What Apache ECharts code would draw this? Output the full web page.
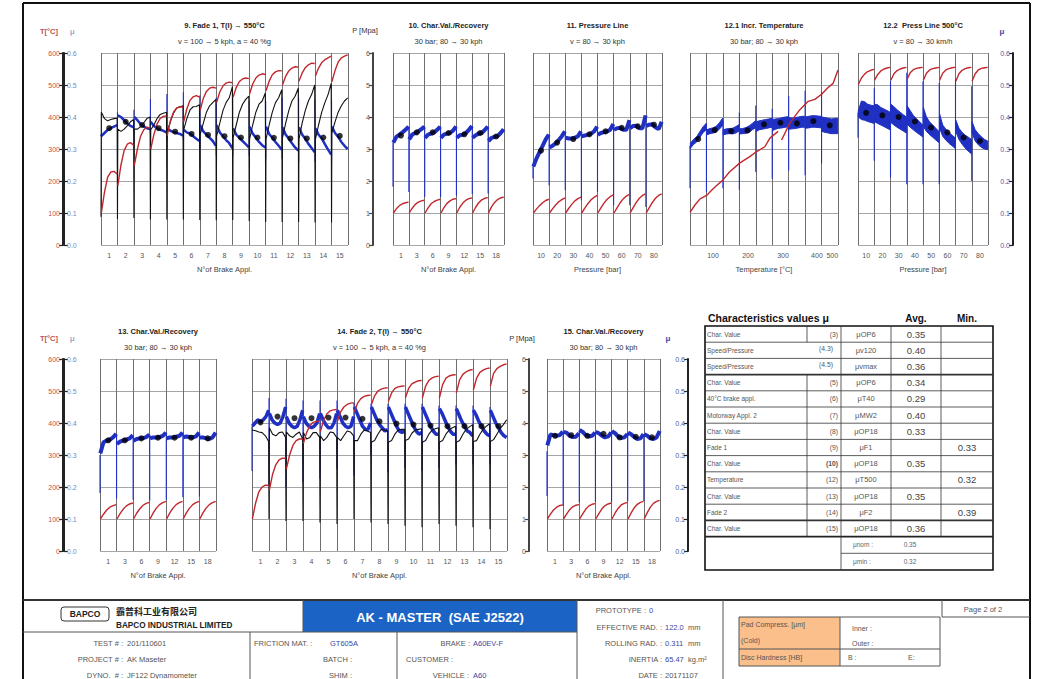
<!DOCTYPE html>
<html><head><meta charset="utf-8"><title>AK - MASTER (SAE J2522)</title>
<script src="https://cdn.jsdelivr.net/npm/echarts@6/dist/echarts.min.js"></script>
<style>html,body{margin:0;padding:0;background:#fff;}#chart{width:1041px;height:679px;}</style>
</head><body><div id="chart"></div>
<script>
// ================= DATA =================
const fade1Ticks = ['1','2','3','4','5','6','7','8','9','10','11','12','13','14','15'];
const recoveryTicks = ['1','3','6','9','12','15','18'];
const pressureTicks = ['10','20','30','40','50','60','70','80'];
const temperatureTicks = ['100','200','300','400','500'];
const temperatureTickAt = [1.4, 3.53, 5.66, 7.72, 8.65];

// 9. Fade 1
const f1Temp = [
 [100,165,212,228,230,222],[185,250,295,315,320,312],[248,300,340,360,368,365],[300,345,378,396,402,404],
 [342,388,415,428,432,430],[385,425,452,463,467,462],[420,458,480,490,493,490],[445,478,497,506,509,507],
 [462,492,511,519,522,520],[472,503,522,531,535,533],[482,512,532,541,545,544],[500,527,544,553,557,556],
 [512,537,554,563,568,567],[528,553,570,579,585,590],[510,545,572,585,590,594]];
const f1Pres = [
 [4.15,3.95,3.88,3.92,3.95,3.96],[3.62,3.55,3.62,3.72,3.85,3.92],[3.62,3.62,3.70,3.82,3.95,4.0],[3.6,3.75,3.95,4.08,4.12,4.15],
 [3.55,3.85,4.12,4.28,4.32,4.35],[3.6,3.95,4.22,4.32,4.33,4.38],[3.45,3.8,4.15,4.35,4.45,4.55],[3.4,3.8,4.2,4.45,4.6,4.95],
 [3.35,3.75,4.15,4.4,4.55,4.65],[3.3,3.75,4.15,4.4,4.5,4.75],[3.3,3.75,4.15,4.45,4.6,4.85],[3.35,3.8,4.2,4.5,4.65,4.9],
 [3.3,3.8,4.2,4.5,4.7,5.0],[3.3,3.75,4.15,4.45,4.7,5.05],[3.5,3.85,4.15,4.35,4.5,4.6]];
const f1PresLow = [0.88,0.81,0.84,0.8,0.8,0.8,0.78,0.77,0.78,0.75,0.72,0.72,0.72,0.7,0.7];
const f1Mu = [
 [0.34,0.35,0.36,0.365,0.37,0.375],[0.405,0.40,0.39,0.38,0.372,0.368],[0.40,0.39,0.378,0.37,0.365,0.362],[0.385,0.372,0.365,0.36,0.357,0.352],
 [0.365,0.357,0.353,0.35,0.347,0.342],[0.36,0.352,0.348,0.34,0.332,0.325],[0.375,0.355,0.345,0.335,0.325,0.31],[0.375,0.352,0.34,0.328,0.318,0.302],
 [0.365,0.345,0.335,0.325,0.315,0.305],[0.37,0.348,0.336,0.322,0.312,0.305],[0.37,0.347,0.335,0.322,0.31,0.298],[0.368,0.345,0.333,0.318,0.305,0.295],
 [0.368,0.345,0.332,0.316,0.303,0.29],[0.365,0.345,0.333,0.315,0.298,0.283],[0.37,0.35,0.338,0.322,0.31,0.30]];
const f1MuLo = [0.34,0.36,0.355,0.35,0.33,0.33,0.3,0.28,0.28,0.28,0.27,0.27,0.26,0.26,0.26];
const f1MuHi = [0.345,0.415,0.423,0.456,0.472,0.477,0.467,0.46,0.46,0.45,0.45,0.46,0.46,0.455,0.455];
const f1Dots = [0.365,0.385,0.375,0.365,0.354,0.347,0.344,0.34,0.336,0.336,0.335,0.333,0.333,0.336,0.341];

// 10. Char. Val./Recovery
const cv1Mu = [
 [0.32,0.338,0.345,0.352,0.36,0.37],[0.33,0.345,0.35,0.355,0.362,0.37],[0.335,0.345,0.348,0.352,0.36,0.37],[0.335,0.345,0.348,0.35,0.358,0.37],
 [0.335,0.343,0.345,0.35,0.36,0.372],[0.335,0.343,0.348,0.35,0.36,0.37],[0.325,0.335,0.338,0.34,0.35,0.362]];
const cv1MuLo = [0.182,0.166,0.15,0.15,0.155,0.159,0.161];
const cv1MuHi = [0.32,0.37,0.37,0.37,0.37,0.372,0.37];
const cv1Temp = [
 [100,113,123,129,132,134],[100,115,127,134,138,140],[100,116,129,136,140,143],[100,117,130,138,143,145],
 [100,118,131,140,145,147],[100,118,132,141,146,148],[100,119,133,142,147,150]];
const cv1Dots = [0.342,0.352,0.352,0.35,0.346,0.35,0.339];

// 11. Pressure Line
const plMu = [
 [0.245,0.27,0.29,0.31,0.33,0.345],[0.305,0.31,0.318,0.328,0.34,0.355],[0.335,0.333,0.333,0.335,0.34,0.355],[0.34,0.342,0.345,0.348,0.355,0.37],
 [0.345,0.35,0.353,0.355,0.36,0.378],[0.36,0.365,0.366,0.36,0.36,0.39],[0.365,0.372,0.373,0.365,0.365,0.405],[0.372,0.376,0.377,0.368,0.362,0.385]];
const plMuLo = [0.208,0.187,0.171,0.14,0.166,0.124,0.124,0.119];
const plMuHi = [0.245,0.345,0.355,0.355,0.37,0.378,0.39,0.405];
const plTemp = [
 [100,112,123,132,139,143],[100,113,125,135,142,147],[100,114,127,138,145,150],[100,115,129,141,149,155],
 [100,116,131,143,151,157],[100,116,132,144,153,158],[100,117,133,146,155,160],[100,117,133,146,155,160]];
const plDots = [0.295,0.32,0.331,0.346,0.355,0.366,0.371,0.376];

// 12.1 Incr. Temperature
const itMuLower = [
 [0.302,0.314,0.322,0.336,0.351,0.36],[0.344,0.348,0.35,0.353,0.362,0.374],[0.344,0.347,0.348,0.347,0.35,0.356],
 [0.347,0.348,0.349,0.352,0.36,0.366],[0.355,0.36,0.362,0.364,0.366,0.368],[0.358,0.362,0.365,0.366,0.368,0.369],
 [0.362,0.363,0.364,0.366,0.368,0.368],[0.365,0.366,0.368,0.368,0.367,0.366],[0.355,0.352,0.35,0.348,0.348,0.348]];
const itMuUpper = [
 [0.318,0.33,0.338,0.354,0.369,0.38],[0.36,0.364,0.366,0.371,0.382,0.396],[0.36,0.363,0.364,0.365,0.37,0.376],
 [0.363,0.364,0.367,0.372,0.38,0.388],[0.385,0.388,0.39,0.392,0.394,0.396],[0.392,0.394,0.395,0.398,0.4,0.401],
 [0.398,0.397,0.398,0.4,0.402,0.402],[0.4,0.402,0.404,0.404,0.403,0.402],[0.4,0.398,0.396,0.394,0.395,0.396]];
const itMuLo = [0.177,0.165,0.177,0.173,0.228,0.207,0.233,0.218,0.255];
const itMuHi = [0.31,0.38,0.39,0.414,0.436,0.426,0.466,0.482,0.477];
const itDots = [0.331,0.359,0.356,0.358,0.377,0.382,0.38,0.387,0.374];
const itTempAtA = [0,0.3,0.61,1.01,1.3,1.62,1.98,2.4,3.0,3.3,3.64,4.05,4.55,4.86,5.36];
const itTempA   = [102,125,144,155,170,186,202,228,255,265,276,292,307,334,355];
const itTempAtB = [5.57,6.07,6.68,7.19,7.59,8.0,8.4,8.7,9.0];
const itTempB   = [328,381,423,449,455,471,492,505,547];

// 12.2 Press Line 500 °C
const p5MuLower = [
 [0.40,0.392,0.39,0.386,0.383,0.38],[0.385,0.38,0.375,0.37,0.365,0.36],[0.383,0.375,0.368,0.362,0.356,0.35],
 [0.378,0.368,0.36,0.352,0.345,0.338],[0.37,0.355,0.345,0.337,0.328,0.32],[0.365,0.34,0.328,0.318,0.31,0.302],
 [0.355,0.33,0.315,0.303,0.293,0.285],[0.35,0.325,0.313,0.305,0.30,0.298]];
const p5MuUpper = [
 [0.42,0.45,0.448,0.44,0.437,0.435],[0.44,0.438,0.43,0.425,0.42,0.415],[0.44,0.432,0.423,0.415,0.407,0.40],
 [0.435,0.42,0.405,0.395,0.385,0.375],[0.43,0.40,0.385,0.375,0.365,0.355],[0.41,0.375,0.362,0.352,0.343,0.335],
 [0.39,0.365,0.352,0.343,0.337,0.33],[0.385,0.36,0.348,0.338,0.33,0.325]];
const p5MuLo = [0.335,0.263,0.211,0.19,0.19,0.19,0.2,0.2];
const p5MuHi = [0.413,0.49,0.512,0.538,0.512,0.507,0.517,0.496];
const p5Dots = [0.413,0.405,0.40,0.386,0.367,0.352,0.336,0.325];
const p5Temp = [
 [502,522,534,542,546,549],[515,533,544,550,553,555],[515,535,545,550,553,555],[518,538,548,552,554,555],
 [515,537,547,551,553,555],[515,537,547,551,554,555],[512,535,546,551,554,555],[512,535,547,552,554,555]];

// 13. Char. Val./Recovery
const cv2Mu = [
 [0.305,0.34,0.345,0.348,0.355,0.366],[0.335,0.342,0.346,0.348,0.352,0.362],[0.345,0.35,0.352,0.353,0.356,0.364],
 [0.352,0.355,0.355,0.356,0.36,0.37],[0.352,0.355,0.355,0.357,0.36,0.37],[0.355,0.358,0.356,0.355,0.358,0.37],[0.355,0.355,0.352,0.35,0.355,0.37]];
const cv2MuLo = [0.181,0.163,0.16,0.158,0.16,0.168,0.17];
const cv2MuHi = [0.3,0.366,0.362,0.364,0.37,0.37,0.37];
const cv2Temp = [
 [100,115,128,137,142,145],[100,117,131,141,147,150],[100,118,132,143,149,152],[100,119,134,145,151,155],
 [100,119,134,145,151,155],[100,119,134,145,151,155],[100,119,134,145,151,155]];
const cv2Dots = [0.346,0.346,0.352,0.354,0.354,0.354,0.352];

// 14. Fade 2
const f2Mu = [
 [0.39,0.40,0.41,0.405,0.41,0.42,0.44],[0.43,0.41,0.40,0.395,0.40,0.42,0.45],[0.42,0.40,0.39,0.385,0.39,0.41,0.44],
 [0.42,0.40,0.39,0.385,0.39,0.40,0.43],[0.43,0.41,0.395,0.385,0.385,0.40,0.43],[0.44,0.42,0.40,0.39,0.385,0.39,0.42],
 [0.45,0.43,0.41,0.39,0.38,0.38,0.40],[0.45,0.43,0.41,0.395,0.385,0.375,0.38],[0.45,0.43,0.41,0.39,0.375,0.37,0.375],
 [0.45,0.43,0.41,0.39,0.375,0.365,0.37],[0.45,0.43,0.41,0.39,0.375,0.365,0.365],[0.445,0.43,0.41,0.39,0.375,0.365,0.365],
 [0.445,0.425,0.405,0.39,0.375,0.37,0.36],[0.44,0.425,0.405,0.39,0.375,0.365,0.36],[0.44,0.42,0.40,0.385,0.37,0.36,0.355]];
const f2MuLo = [0.25,0.205,0.2,0.215,0.226,0.257,0.236,0.3,0.247,0.26,0.25,0.26,0.27,0.27,0.27];
const f2MuHi = [0.39,0.478,0.476,0.47,0.47,0.47,0.465,0.46,0.46,0.46,0.46,0.455,0.455,0.455,0.45];
const f2Temp = [
 [100,150,185,200,206,205],[190,240,270,285,290,290],[256,300,330,345,350,350],[336,370,392,402,405,406],
 [373,408,428,438,441,442],[405,435,450,458,462,463],[435,462,476,483,486,487],[457,485,500,506,509,510],
 [467,494,508,513,515,516],[478,508,522,528,532,533],[478,515,533,541,545,546],[478,520,540,547,550,551],
 [494,535,552,560,565,567],[504,540,558,565,570,572],[515,555,570,577,582,585]];
const f2Pres = [
 [3.78,3.76,3.72,3.7,3.6,3.42],[3.85,3.65,3.6,3.7,3.72,3.55],[3.72,3.6,3.55,3.65,3.72,3.5],[3.7,3.5,3.55,3.7,3.7,3.55],
 [3.6,3.45,3.55,3.72,3.7,3.55],[3.55,3.45,3.6,3.75,3.72,3.6],[3.45,3.45,3.65,3.78,3.75,3.7],[3.4,3.45,3.65,3.8,3.78,3.75],
 [3.4,3.45,3.65,3.78,3.8,3.8],[3.45,3.5,3.68,3.78,3.8,3.82],[3.4,3.45,3.65,3.78,3.82,3.85],[3.4,3.45,3.65,3.78,3.85,3.9],
 [3.4,3.45,3.65,3.8,3.88,3.95],[3.42,3.45,3.65,3.8,3.9,3.98],[3.42,3.48,3.65,3.82,3.95,4.1]];
const f2PresLow = [3.78,1.0,0.94,0.94,0.89,0.84,1.0,0.89,0.84,0.79,0.74,0.84,0.79,0.74,0.68];
const f2Dots = [0.402,0.42,0.415,0.415,0.417,0.417,0.413,0.405,0.398,0.395,0.392,0.39,0.39,0.39,0.39];

// 15. Char. Val./Recovery
const cv3Mu = [
 [0.33,0.364,0.362,0.36,0.362,0.373],[0.372,0.37,0.36,0.356,0.357,0.368],[0.378,0.372,0.362,0.358,0.36,0.37],
 [0.372,0.368,0.36,0.355,0.358,0.37],[0.375,0.368,0.358,0.353,0.355,0.365],[0.37,0.365,0.356,0.35,0.352,0.365],[0.365,0.36,0.352,0.35,0.355,0.375]];
const cv3MuLo = [0.172,0.141,0.152,0.154,0.154,0.156,0.156];
const cv3MuHi = [0.312,0.373,0.378,0.372,0.375,0.37,0.365];
const cv3Temp = [
 [100,115,128,137,142,144],[100,115,129,138,143,145],[100,116,131,141,146,148],[100,117,132,142,147,150],
 [100,118,133,144,149,152],[100,119,135,146,152,155],[100,120,137,149,155,158]];
const cv3Dots = [0.36,0.362,0.36,0.366,0.355,0.357,0.355];

// Characteristics table
const charNames = ['Char. Value','Speed/Pressure','Speed/Pressure','Char. Value','40°C brake appl.','Motorway Appl. 2','Char. Value','Fade 1','Char. Value','Temperature','Char. Value','Fade 2','Char. Value'];
const charRefs = ['(3)','(4.3)','(4.5)','(5)','(6)','(7)','(8)','(9)','(10)','(12)','(13)','(14)','(15)'];
const charSymbols = ['μOP6','μv120','μvmax','μOP6','μT40','μMW2','μOP18','μF1','μOP18','μT500','μOP18','μF2','μOP18'];
const charAvg = ['0.35','0.40','0.36','0.34','0.29','0.40','0.33','','0.35','','0.35','','0.36'];
const charMin = ['','','','','','','','0.33','','0.32','','0.39',''];
const summaryNames = ['μnom :','μmin :'];
const summaryValues = ['0.35','0.32'];

// ================= STYLE / LAYOUT =================
const FONT = '"Liberation Sans", Arial, sans-serif';
const BLUE = '#1f30c2', RED = '#c1272d', BLACK = '#111111';

const PANELS = [
 {left:101, top:53, width:247, n:15, ticks:fade1Ticks, xName:'N°of Brake Appl.', title:'9. Fade 1, T(I) → 550°C', sub:'v = 100 → 5 kph, a = 40 %g',
  mu:f1Mu, muW:2.5, muLo:f1MuLo, muHi:f1MuHi, temp:f1Temp, pres:f1Pres, presLow:f1PresLow, dots:f1Dots},
 {left:393, top:53, width:111, n:7, ticks:recoveryTicks, xName:'N°of Brake Appl.', title:'10. Char.Val./Recovery', sub:'30 bar; 80 → 30 kph',
  mu:cv1Mu, muW:4, muLo:cv1MuLo, muHi:cv1MuHi, temp:cv1Temp, dots:cv1Dots},
 {left:533, top:53, width:129, n:8, ticks:pressureTicks, xName:'Pressure [bar]', title:'11. Pressure Line', sub:'v = 80 → 30 kph',
  mu:plMu, muW:4, muLo:plMuLo, muHi:plMuHi, temp:plTemp, dots:plDots},
 {left:690, top:53, width:148, n:9, ticks:temperatureTicks, tickAt:temperatureTickAt, xName:'Temperature [°C]', title:'12.1 Incr. Temperature', sub:'30 bar; 80 → 30 kph',
  band:[itMuLower, itMuUpper], muLo:itMuLo, muHi:itMuHi, tempXY:[itTempAtA, itTempA, itTempAtB, itTempB], dots:itDots},
 {left:858, top:53, width:130, n:8, ticks:pressureTicks, xName:'Pressure [bar]', title:'12.2  Press Line 500°C', sub:'v = 80 → 30 km/h',
  band:[p5MuLower, p5MuUpper], muLo:p5MuLo, muHi:p5MuHi, temp:p5Temp, dots:p5Dots},
 {left:100, top:359, width:116, n:7, ticks:recoveryTicks, xName:'N°of Brake Appl.', title:'13. Char.Val./Recovery', sub:'30 bar; 80 → 30 kph',
  mu:cv2Mu, muW:4, muLo:cv2MuLo, muHi:cv2MuHi, temp:cv2Temp, dots:cv2Dots},
 {left:252, top:359, width:255, n:15, ticks:fade1Ticks, xName:'N°of Brake Appl.', title:'14. Fade 2, T(I) → 550°C', sub:'v = 100 → 5 kph, a = 40 %g',
  mu:f2Mu, muW:3.5, muLo:f2MuLo, muHi:f2MuHi, temp:f2Temp, pres:f2Pres, presLow:f2PresLow, dots:f2Dots},
 {left:547, top:359, width:113, n:7, ticks:recoveryTicks, xName:'N°of Brake Appl.', title:'15. Char.Val./Recovery', sub:'30 bar; 80 → 30 kph',
  mu:cv3Mu, muW:4, muLo:cv3MuLo, muHi:cv3MuHi, temp:cv3Temp, dots:cv3Dots}
];
const PANEL_H = 192;

// ================= BUILDERS =================
function tAt(k, n) { return 0.02 + 0.96 * k / (n - 1); }
function segmented(segs) {
  const out = [];
  segs.forEach((v, s) => { v.forEach((y, k) => out.push([s + tAt(k, v.length), y])); out.push([s + 0.99, null]); });
  return out;
}
function withDips(segs, dips) {
  const out = [];
  segs.forEach((v, s) => { out.push([s, dips[s]]); v.forEach((y, k) => out.push([s + tAt(k, v.length), y])); });
  return out;
}
function spikes(lo, hi) {
  const out = [];
  lo.forEach((l, s) => { out.push([s, l], [s, hi[s]], [s, null]); });
  return out;
}
function dotData(vals) { return vals.map((v, s) => [s + 0.5, v]); }
function pairXY(xs, ys) { return xs.map((x, k) => [x, ys[k]]); }

function mkLine(i, yi, data, color, width, z) {
  return {type:'line', xAxisIndex:i, yAxisIndex:yi, data:data, showSymbol:false, symbol:'none',
    lineStyle:{color:color, width:width}, itemStyle:{color:color}, connectNulls:false, silent:true, z:z, animation:false};
}
function mkBand(i, lower, upper) {
  return {type:'custom', xAxisIndex:i, yAxisIndex:3 * i, silent:true, z:2, animation:false,
    data: lower.map((_, s) => [s, lower[s][0]]), encode:{x:0, y:1},
    renderItem: function (params, api) {
      const s = params.dataIndex, L = lower[s], U = upper[s], n = L.length, pts = [];
      for (let k = 0; k < n; k++) pts.push(api.coord([s + tAt(k, n), U[k]]));
      for (let k = n - 1; k >= 0; k--) pts.push(api.coord([s + tAt(k, n), L[k]]));
      return {type:'polygon', shape:{points:pts}, style:{fill:BLUE, stroke:BLUE, lineWidth:1}};
    }};
}

const grids = [], xAxes = [], yAxes = [], series = [];
PANELS.forEach((p, i) => {
  grids.push({left:p.left, top:p.top, width:p.width, height:PANEL_H});
  const at = p.tickAt || p.ticks.map((_, k) => k + 0.5);
  xAxes.push({type:'value', gridIndex:i, min:0, max:p.n, interval:1,
    axisLine:{show:false, onZero:false}, axisTick:{show:false},
    splitLine:{show:true, lineStyle:{color:'#6f6f6f', width:1}},
    axisLabel:{customValues:at, formatter:function (v) { const k = at.findIndex(a => Math.abs(a - v) < 1e-6); return k >= 0 ? p.ticks[k] : ''; },
      fontSize:7, color:'#555', margin:7},
    name:p.xName, nameLocation:'middle', nameGap:20, nameTextStyle:{fontSize:7.5, color:'#444'}});
  yAxes.push({type:'value', gridIndex:i, min:0, max:0.6, interval:0.1, axisLine:{show:false}, axisTick:{show:false},
    axisLabel:{show:false}, splitLine:{show:true, lineStyle:{color:'#a6a6a6', width:1}}});
  yAxes.push({type:'value', gridIndex:i, min:0, max:600, show:false});
  yAxes.push({type:'value', gridIndex:i, min:0, max:6, show:false});

  if (p.band) series.push(mkBand(i, p.band[0], p.band[1]));
  if (p.mu) series.push(mkLine(i, 3 * i, segmented(p.mu), BLUE, p.muW, 2));
  series.push(mkLine(i, 3 * i, spikes(p.muLo, p.muHi), BLUE, 1.1, 2));
  if (p.pres) series.push(mkLine(i, 3 * i + 2, withDips(p.pres, p.presLow), BLACK, 1.1, 3));
  const tempData = p.tempXY ? pairXY(p.tempXY[0], p.tempXY[1]).concat([[5.45, null]], pairXY(p.tempXY[2], p.tempXY[3])) : segmented(p.temp);
  series.push(mkLine(i, 3 * i + 1, tempData, RED, 1.4, 4));
  series.push({type:'scatter', xAxisIndex:i, yAxisIndex:3 * i, data:dotData(p.dots), symbol:'circle', symbolSize:6,
    itemStyle:{color:'#000'}, silent:true, z:5, animation:false});
});

// stand-alone scales
const SCALES = [
 {left:63, top:53, kind:'TMU'}, {left:373, top:53, kind:'P'}, {left:1013, top:53, kind:'MU'},
 {left:63, top:359, kind:'TMU'}, {left:529, top:359, kind:'P'}, {left:688, top:359, kind:'MU'}];
function scaleAxis(gi, pos, max, interval, color, fmt, axisColor) {
  return {type:'value', gridIndex:gi, position:pos, min:0, max:max, interval:interval,
    axisLine:{show:true, onZero:false, lineStyle:{color:axisColor || '#222', width:2}},
    axisTick:{show:true, length:4, lineStyle:{color:axisColor || '#222', width:1.2}},
    axisLabel:{color:color, fontSize:7, margin:3, formatter:fmt}, splitLine:{show:false}};
}
const f1 = v => v.toFixed(1), f0 = v => String(v);
SCALES.forEach((sc, j) => {
  const gi = PANELS.length + j;
  grids.push({left:sc.left, top:sc.top, width:1, height:PANEL_H});
  xAxes.push({type:'value', gridIndex:gi, min:0, max:1, show:false});
  if (sc.kind === 'TMU') {
    yAxes.push(scaleAxis(gi, 'left', 600, 100, '#c0504d', f0));
    yAxes.push(scaleAxis(gi, 'right', 0.6, 0.1, '#7d89b8', f1));
  } else if (sc.kind === 'P') {
    yAxes.push(scaleAxis(gi, 'left', 6, 1, '#555', f0, '#444'));
  } else {
    yAxes.push(scaleAxis(gi, 'left', 0.6, 0.1, '#4c5aa8', f1));
  }
});

// ================= GRAPHIC (texts, table, footer) =================
const G = [];
function T(x, y, text, o) {
  o = o || {};
  G.push({type:'text', x:x, y:y, silent:true, z:10, style:{text:text, fill:o.c || '#444', fontSize:o.s || 7.5,
    fontWeight:o.b ? 'bold' : 'normal', fontFamily:o.f || FONT, textAlign:o.a || 'left', textVerticalAlign:'middle',
    align:o.a || 'left', verticalAlign:'middle'}});
}
function L(x1, y1, x2, y2, w, c) {
  G.push({type:'line', silent:true, z:9, shape:{x1:x1, y1:y1, x2:x2, y2:y2}, style:{stroke:c || '#555', lineWidth:w || 1}});
}
function R(x, y, w, h, fill, stroke, lw, r) {
  G.push({type:'rect', silent:true, z:8, shape:{x:x, y:y, width:w, height:h, r:r || 0}, style:{fill:fill || 'none', stroke:stroke || 'none', lineWidth:lw || 0}});
}

// panel titles
PANELS.forEach(p => {
  const cx = p.left + p.width / 2, ty = p.top - 28;
  T(cx, ty, p.title, {a:'center', b:true, s:7.5, c:'#222'});
  T(cx, ty + 16, p.sub, {a:'center', s:7.5, c:'#333'});
});
// scale headers
[31, 338].forEach(y => {
  T(40, y, 'T[°C]', {b:true, s:7.5, c:'#c0504d'});
  T(70, y, 'μ', {s:8, c:'#6f7db8'});
});
T(365, 30, 'P [Mpa]', {a:'center', s:7.5, c:'#333'});
T(522, 338, 'P [Mpa]', {a:'center', s:7.5, c:'#333'});
T(1002, 31, 'μ', {a:'center', b:true, s:8, c:'#3b48a8'});
T(668, 338, 'μ', {a:'center', b:true, s:8, c:'#3b48a8'});

// page frame
L(23, 3, 1030, 3, 2, '#111'); L(23, 3, 23, 679, 2, '#111'); L(1030, 3, 1030, 679, 2, '#111'); L(23, 600, 1030, 600, 2, '#333');

// characteristics table
const TX = 705, TY = 326, TW = 288, RH = 16.2;
T(708, 318, 'Characteristics values μ', {b:true, s:10.5, c:'#111'});
T(916, 318, 'Avg.', {b:true, s:10, a:'center', c:'#111'});
T(967, 318, 'Min.', {b:true, s:10, a:'center', c:'#111'});
charNames.forEach((nm, r) => {
  const yc = TY + RH * (r + 0.5);
  T(707, yc, nm, {s:6.5, c:'#555'});
  const half = (r === 1 || r === 2);
  T(half ? 833 : 838, half ? yc - 2 : yc, charRefs[r], {s:6.8, a:'right', c:'#555', b:r === 8});
  T(866, yc, charSymbols[r], {s:7.5, a:'center', c:'#555'});
  if (charAvg[r]) T(916, yc, charAvg[r], {s:9.5, a:'center', c:'#444'});
  if (charMin[r]) T(967, yc, charMin[r], {s:9.5, a:'center', c:'#444'});
  if (r > 0) L(TX, TY + RH * r, TX + TW, TY + RH * r, (r === 3 || r === 12) ? 1.8 : 0.8, '#333');
  if (!half) L(807, TY + RH * r, 807, TY + RH * (r + 1), 0.8, '#333');
});
const TB = TY + RH * charNames.length;
L(TX, TB, TX + TW, TB, 1.8, '#222');
L(841, TY, 841, 570, 0.8, '#333'); L(891, TY, 891, TB, 0.8, '#333'); L(941, TY, 941, TB, 0.8, '#333');
L(841, (TB + 570) / 2, TX + TW, (TB + 570) / 2, 0.8, '#333');
summaryNames.forEach((nm, r) => {
  const yc = TB + (570 - TB) * (r + 0.5) / 2;
  T(853, yc, nm, {s:6.5, c:'#666'});
  T(910, yc, summaryValues[r], {s:6.5, a:'center', c:'#666'});
});
R(TX, TY, TW, 570 - TY, 'none', '#111', 1.6);

// footer
R(61, 607, 48, 14, 'none', '#333', 1, 3);
T(85, 614, 'BAPCO', {b:true, s:8.5, a:'center', c:'#222'});
T(116, 611, '霸普科工业有限公司', {b:true, s:9, c:'#222', f:'"Noto Sans CJK SC", sans-serif'});
T(116, 625, 'BAPCO INDUSTRIAL LIMITED', {b:true, s:8.2, c:'#222'});
R(303, 601, 274, 31, '#1b64c6');
T(440, 617, 'AK - MASTER  (SAE J2522)', {b:true, s:13, a:'center', c:'#fff'});
L(23, 632, 577, 632, 1, '#555'); L(303, 600, 303, 632, 1, '#555');
L(250, 632, 250, 679, 1, '#555'); L(397, 632, 397, 679, 1, '#555');
L(577, 600, 577, 679, 1, '#555'); L(723, 600, 723, 679, 1, '#555');
L(942, 600, 942, 617, 1, '#555'); L(942, 617, 1030, 617, 1, '#555');

const VAL = '#3a47a0', LAB = '#555';
T(123, 643, 'TEST # :', {a:'right', c:LAB}); T(127, 643, '201/110601', {c:LAB});
T(123, 659.5, 'PROJECT # :', {a:'right', c:LAB}); T(127, 659.5, 'AK Maseter', {c:LAB});
T(123, 675, 'DYNO.  # :', {a:'right', c:LAB}); T(127, 675, 'JF122 Dynamometer', {c:LAB});
T(254, 643, 'FRICTION MAT. :', {c:LAB}); T(330, 643, 'GT605A', {c:VAL});
T(352, 659.5, 'BATCH :', {a:'right', c:LAB});
T(352, 675, 'SHIM :', {a:'right', c:LAB});
T(470, 643, 'BRAKE :', {a:'right', c:LAB}); T(473, 643, 'A60EV-F', {c:VAL});
T(453, 659.5, 'CUSTOMER :', {a:'right', c:LAB});
T(469, 675, 'VEHICLE :', {a:'right', c:LAB}); T(473, 675, 'A60', {c:VAL});
T(646, 610.5, 'PROTOTYPE :', {a:'right', c:LAB}); T(649, 610.5, '0', {c:VAL});
T(662, 627, 'EFFECTIVE RAD. :', {a:'right', c:LAB}); T(665, 627, '122.0', {c:VAL}); T(688, 627, 'mm', {c:LAB});
T(662, 643, 'ROLLING RAD. :', {a:'right', c:LAB}); T(665, 643, '0.311', {c:VAL}); T(688, 643, 'mm', {c:LAB});
T(662, 659, 'INERTIA :', {a:'right', c:LAB}); T(665, 659, '65.47', {c:VAL}); T(688, 659, 'kg.m²', {c:LAB});
T(662, 675, 'DATE :', {a:'right', c:LAB}); T(665, 675, '20171107', {c:LAB});
T(983, 609, 'Page 2 of 2', {a:'center', c:LAB});

R(739, 617, 101, 49, '#fbbf8b', 'none', 0);
R(739, 617, 201, 49, 'none', '#555', 1);
L(840, 617, 840, 666, 1, '#555'); L(739, 649, 940, 649, 1, '#555');
T(741, 624.5, 'Pad Compress. [μm]', {s:7, c:LAB});
T(741, 640.5, '(Cold)', {s:7, c:LAB});
T(741, 657, 'Disc Hardness [HB]', {s:7, c:LAB});
T(852, 628, 'Inner :', {s:7, c:LAB});
T(852, 643, 'Outer :', {s:7, c:LAB});
T(848, 657, 'B :', {s:7, c:LAB});
T(908, 657, 'E:', {s:7, c:LAB});

// ================= CHART =================
const chart = echarts.init(document.getElementById('chart'), null, {renderer:'svg', width:1041, height:679});
chart.setOption({
  animation:false,
  backgroundColor:'#ffffff',
  textStyle:{fontFamily:FONT},
  grid:grids, xAxis:xAxes, yAxis:yAxes, series:series, graphic:{elements:G}
});
</script></body></html>
